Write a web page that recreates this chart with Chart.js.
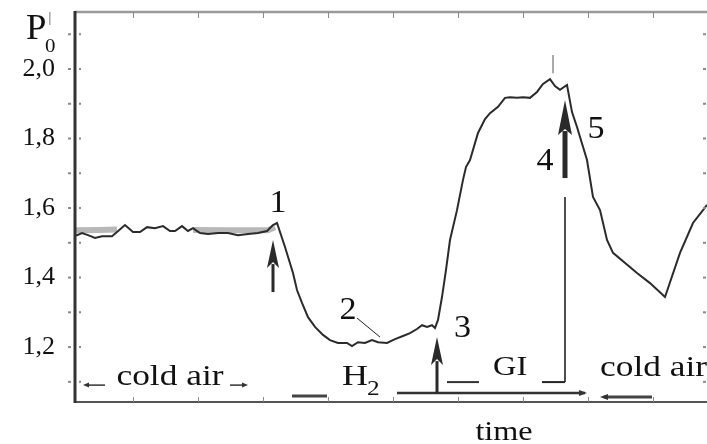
<!DOCTYPE html>
<html><head><meta charset="utf-8">
<script src="https://cdn.jsdelivr.net/npm/chart.js@4.4.1/dist/chart.umd.min.js"></script>
<style>html,body{margin:0;padding:0;background:#fff;}canvas{display:block}
.fp{font-family:"Liberation Serif";position:absolute;left:-999px;top:0}</style>
</head><body>
<span class="fp">cold air 1,6</span>
<canvas id="c" width="707" height="444"></canvas>
<script>
// ---- data (time in arbitrary units, P'0 values) ----
const mainTime = [7,9,14,20,27,34,44,49,57,65,72,79,87,95,102,107,114,120,125,132,140,150,160,170,180,190,199,205,209,
  217,225,229,234,240,247,255,262,270,279,284,290,297,304,310,319,327,335,342,349,354,359,364,367,370,374,
  378,382,389,395,398,402,410,417,422,430,437,442,449,455,462,469,475,482,487,492,499,
  504,509,519,525,532,539,545,569,582,597,612,625,635,639];
const mainValue = [1.522,1.522,1.528,1.522,1.514,1.519,1.519,1.531,1.551,1.531,1.531,1.545,1.542,1.548,1.534,1.534,1.548,1.534,1.542,1.528,1.525,1.528,1.528,1.522,1.525,1.528,1.534,1.551,1.557,
  1.488,1.413,1.364,1.327,1.286,1.258,1.235,1.220,1.212,1.212,1.203,1.214,1.212,1.220,1.214,1.212,1.223,1.232,1.240,1.252,1.263,1.258,1.263,1.255,1.278,1.344,
  1.422,1.508,1.594,1.681,1.718,1.738,1.816,1.856,1.873,1.891,1.917,1.919,1.917,1.919,1.917,1.934,1.957,1.971,1.951,1.940,1.954,
  1.876,1.833,1.738,1.632,1.594,1.508,1.471,1.413,1.384,1.344,1.471,1.557,1.594,1.609];
const greyTime  = [7,30,49,53,125,160,200,207];
const greyValue = [1.536,1.537,1.538,null,1.537,1.536,1.536,1.545];
const yTickValues = [1.2,1.4,1.6,1.8,2.0];
const xMin = 7, xMax = 639, yMin = 1.042, yMax = 2.164;

const SERIF = '"Liberation Serif", "Times New Roman", Times, serif';

const textNotes = [
  {text:'1', t:210, v:1.6115, size:31, align:'center', base:'middle', s:1.1},
  {text:'2', t:280, v:1.305, size:31, align:'center', base:'middle', s:1.1},
  {text:'3', t:394.5, v:1.252, size:31, align:'center', base:'middle', s:1.1},
  {text:'4', t:477, v:1.734, size:31, align:'center', base:'middle', s:1.1},
  {text:'5', t:528, v:1.824, size:31, align:'center', base:'middle', s:1.1},
  {text:'cold air', t:102, v:1.0906, size:29, align:'center', base:'alphabetic', s:1.22},
  {text:'H', t:274, v:1.0906, size:30, align:'left', base:'alphabetic', s:1.2},
  {text:'2', t:299, v:1.0619, size:22, align:'left', base:'alphabetic', s:1.15},
  {text:'GI', t:425, v:1.1194, size:27, align:'left', base:'alphabetic', s:1.2},
  {text:'cold air', t:532, v:1.1165, size:29, align:'left', base:'alphabetic', s:1.22},
  {text:'time', t:436, v:0.9324, size:28, align:'center', base:'alphabetic', s:1.15},
  {text:'P', t:-42, v:2.0863, size:35, align:'left', base:'alphabetic', s:1.05},
  {text:'0', t:-23, v:2.0489, size:19, align:'left', base:'alphabetic', s:1.1},
  {text:'|', t:-18, v:2.166, size:14, align:'center', base:'top', s:1, color:'#444'}
];
// plain segments [t1,v1,t2,v2,width,color]
const segNotes = [
  [289,1.2835,312,1.2288,1,'#222'],
  [497,1.632,497,1.0993,1.6,'#222'],
  [474,1.0993,497,1.0993,2,'#222'],
  [379,1.0993,411,1.0993,2,'#333'],
  [329,1.0676,517,1.0676,2.5,'#333'],
  [224,1.059,259,1.059,3,'#444'],
  [536,1.0561,584,1.0561,3,'#444'],
  [18,1.0906,37,1.0906,1.5,'#333'],
  [162,1.0906,177,1.0906,1.5,'#333'],
  [485,2.040,485,1.988,2,'#aaa']
];
// horizontal arrow heads [t, v, dir, len, halfWidth]
const headNotes = [
  [519,1.0676,1,8,3],
  [532,1.0561,-1,8,3],
  [15,1.0906,-1,6,2.5],
  [180,1.0906,1,6,2.5]
];
// upward arrows [t, tailV, tipV, headBaseV, headWidth, shaftWidth]
const upArrows = [
  [205,1.3583,1.5079,1.4273,12,3],
  [369,1.0676,1.2288,1.1482,12,3],
  [497,1.6863,1.9108,1.810,14,5]
];

function drawText(ctx, n, X, Y){
  ctx.save();
  ctx.font = n.size + 'px ' + SERIF;
  ctx.fillStyle = n.color || '#111';
  ctx.textAlign = n.align; ctx.textBaseline = n.base;
  ctx.translate(X(n.t), Y(n.v)); ctx.scale(n.s, 1);
  ctx.fillText(n.text, 0, 0);
  ctx.restore();
}

const decor = {
  id:'decor',
  beforeDraw(chart){
    const c = chart.ctx; c.save(); c.fillStyle='#fff'; c.fillRect(0,0,chart.width,chart.height); c.restore();
  },
  afterDraw(chart){
    const ctx = chart.ctx, xs = chart.scales.x, ys = chart.scales.y, a = chart.chartArea;
    const X = v => xs.getPixelForValue(v), Y = v => ys.getPixelForValue(v);
    ctx.save();
    ctx.lineCap = 'butt';
    ctx.strokeStyle = '#9a9a9a'; ctx.lineWidth = 2.5;
    ctx.beginPath(); ctx.moveTo(a.left, a.top); ctx.lineTo(a.right, a.top); ctx.stroke();
    ctx.strokeStyle = '#555'; ctx.lineWidth = 2;
    ctx.beginPath(); ctx.moveTo(a.left, a.bottom); ctx.lineTo(a.right, a.bottom); ctx.stroke();
    ctx.strokeStyle = '#8a8a8a'; ctx.lineWidth = 1;
    for (let t = 65; t < xMax; t += 65) {
      const px = Math.round(X(t)) + 0.5;
      ctx.beginPath(); ctx.moveTo(px, a.top); ctx.lineTo(px, a.top + 6); ctx.stroke();
      ctx.beginPath(); ctx.moveTo(px, a.bottom - 5); ctx.lineTo(px, a.bottom); ctx.stroke();
    }
    ctx.lineWidth = 2;
    for (let k = 11; k <= 21; k++) {
      const py = Y(k / 10);
      ctx.beginPath(); ctx.moveTo(a.left - 7, py); ctx.lineTo(a.left - 4, py); ctx.stroke();
      ctx.beginPath(); ctx.moveTo(a.left + 4, py); ctx.lineTo(a.left + 6, py); ctx.stroke();
      ctx.beginPath(); ctx.moveTo(a.right - 4, py); ctx.lineTo(a.right - 1, py); ctx.stroke();
    }
    ctx.strokeStyle = '#333'; ctx.lineWidth = 3;
    ctx.beginPath(); ctx.moveTo(a.left, a.top - 1); ctx.lineTo(a.left, a.bottom + 1); ctx.stroke();
    segNotes.forEach(s => {
      ctx.strokeStyle = s[5]; ctx.lineWidth = s[4];
      ctx.beginPath(); ctx.moveTo(X(s[0]), Y(s[1])); ctx.lineTo(X(s[2]), Y(s[3])); ctx.stroke();
    });
    headNotes.forEach(h => {
      const px = X(h[0]), py = Y(h[1]);
      ctx.fillStyle = '#333';
      ctx.beginPath(); ctx.moveTo(px, py); ctx.lineTo(px - h[2]*h[3], py - h[4]); ctx.lineTo(px - h[2]*h[3], py + h[4]); ctx.closePath(); ctx.fill();
    });
    upArrows.forEach(u => {
      const px = X(u[0]);
      ctx.strokeStyle = '#2a2a2a'; ctx.lineWidth = u[5];
      ctx.beginPath(); ctx.moveTo(px, Y(u[1])); ctx.lineTo(px, Y(u[3]) - 4); ctx.stroke();
      ctx.fillStyle = '#2a2a2a';
      ctx.beginPath();
      ctx.moveTo(px, Y(u[2]));
      ctx.lineTo(px - u[4]/2, Y(u[3]));
      ctx.lineTo(px, Y(u[3]) - 6);
      ctx.lineTo(px + u[4]/2, Y(u[3]));
      ctx.closePath(); ctx.fill();
    });
    textNotes.forEach(n => drawText(ctx, n, X, Y));
    ctx.restore();
  }
};

function build(){
  new Chart(document.getElementById('c'), {
    type: 'line',
    data: {
      datasets: [
        { label:'P0', data: mainTime.map((t,i)=>({x:t, y:mainValue[i]})),
          borderColor:'#2b2b2b', borderWidth:2, pointRadius:0, tension:0, fill:false, order:1 },
        { label:'band', data: greyTime.map((t,i)=>({x:t, y:greyValue[i]})),
          borderColor:'#b8b8b8', borderWidth:6, pointRadius:0, tension:0, fill:false, spanGaps:false, order:2 }
      ]
    },
    options: {
      responsive:false, animation:false, devicePixelRatio:1,
      layout:{ padding:{ top:12, right:0, left:0, bottom:0 } },
      plugins:{ legend:{display:false}, tooltip:{enabled:false} },
      scales:{
        x:{ type:'linear', min:xMin, max:xMax,
            ticks:{display:false}, grid:{display:false, drawTicks:false}, border:{display:false},
            afterFit(s){ s.height = 42; s.paddingLeft = 0; s.paddingRight = 0; } },
        y:{ type:'linear', min:yMin, max:yMax,
            afterBuildTicks(s){ s.ticks = yTickValues.map(v=>({value:v})); },
            ticks:{ autoSkip:false, padding:20, color:'#111',
                    font:{ family:SERIF, size:26 },
                    callback:(v)=> Number(v).toFixed(1).replace('.', ',') },
            grid:{display:false, drawTicks:false}, border:{display:false},
            afterFit(s){ s.width = 75; s.paddingTop = 0; s.paddingBottom = 0; } }
      }
    },
    plugins:[decor]
  });
}
Promise.all([
  document.fonts.load('26px "Liberation Serif"'),
  document.fonts.load('26px "Times New Roman"')
]).catch(()=>{}).then(build);
</script>
</body></html>
